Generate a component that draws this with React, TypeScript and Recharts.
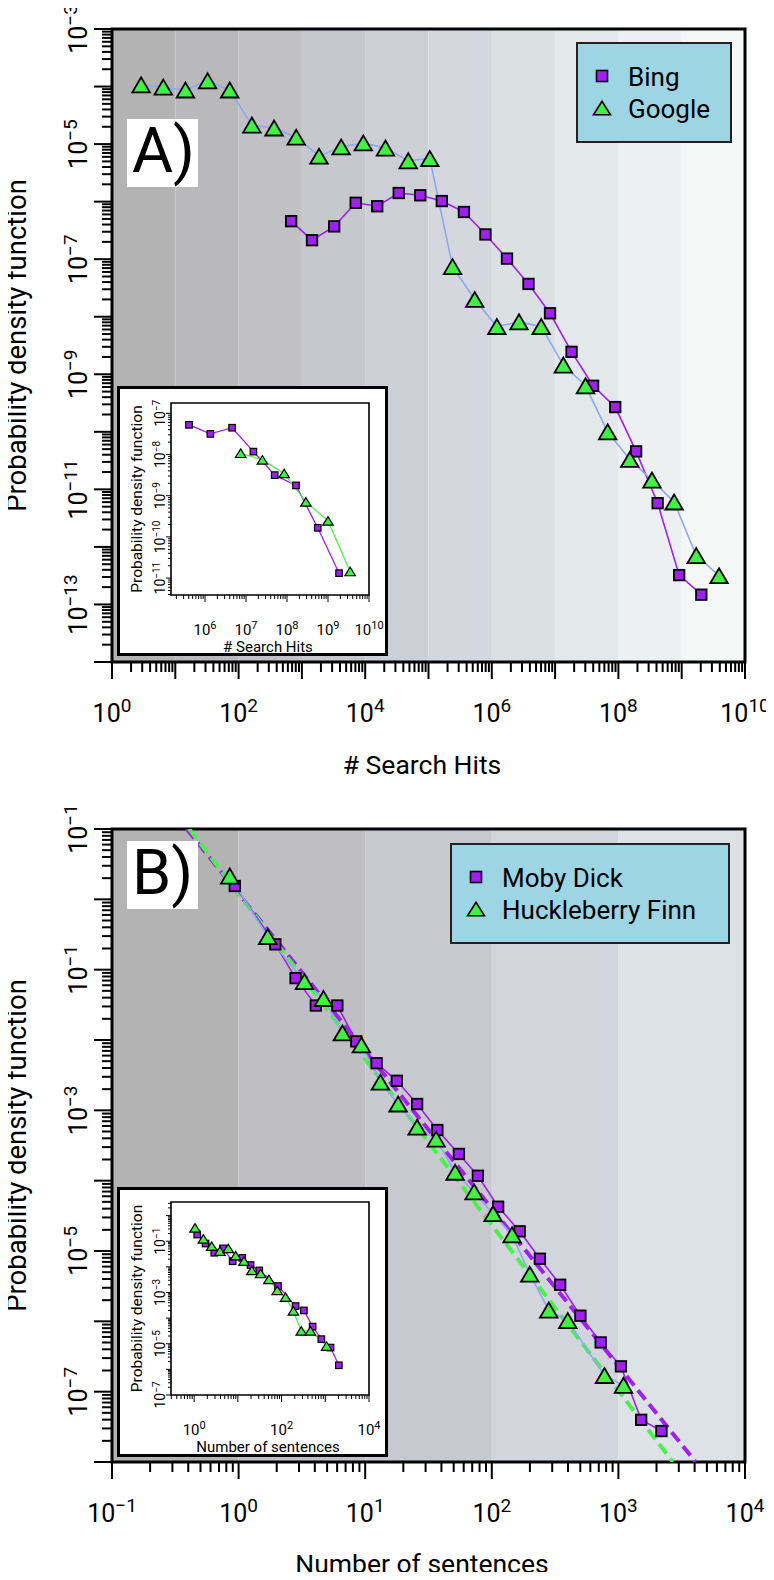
import React from 'react';
import { ComposedChart, Line, XAxis, YAxis, ReferenceArea } from 'recharts';

const FONT = 'Roboto, "Open Sans", Arial, sans-serif';
const PURPLE = '#a020f0';
const GREEN = '#44f044';
const SKY = '#8ea9ef';
const FIT_GREEN = '#4cf04c';
const LEGEND_BG = '#9dd5e5';

// ---- Panel A: search hits (all values are log10) ----
const bingHitsLog = [2.83, 3.16, 3.51, 3.85, 4.19, 4.53, 4.87, 5.21, 5.56, 5.9, 6.24, 6.58, 6.92, 7.26, 7.6, 7.95, 8.28, 8.62, 8.96, 9.31];
const bingPdfLog = [-6.34, -6.67, -6.43, -6.02, -6.08, -5.85, -5.89, -5.99, -6.18, -6.57, -6.99, -7.43, -7.94, -8.61, -9.2, -9.57, -10.34, -11.24, -12.49, -12.83];
const googleHitsLog = [0.46, 0.81, 1.16, 1.51, 1.86, 2.21, 2.56, 2.91, 3.27, 3.62, 3.97, 4.32, 4.68, 5.02, 5.38, 5.73, 6.08, 6.43, 6.78, 7.13, 7.48, 7.83, 8.18, 8.53, 8.88, 9.23, 9.59];
const googlePdfLog = [-3.97, -4.01, -4.06, -3.9, -4.06, -4.67, -4.72, -4.88, -5.21, -5.05, -4.98, -5.07, -5.29, -5.25, -7.13, -7.7, -8.17, -8.09, -8.17, -8.84, -9.2, -10.0, -10.48, -10.84, -11.22, -12.15, -12.5];

// inset A
const bingInsetHitsLog = [5.61, 6.13, 6.66, 7.18, 7.7, 8.22, 8.75, 9.27];
const bingInsetPdfLog = [-7.28, -7.5, -7.35, -7.93, -8.5, -8.75, -9.78, -10.88];
const googleInsetHitsLog = [6.87, 7.4, 7.93, 8.46, 9.0, 9.54];
const googleInsetPdfLog = [-7.97, -8.13, -8.46, -9.15, -9.61, -10.84];

// ---- Panel B: sentences ----
const mobySentLog = [-0.03, 0.29, 0.45, 0.61, 0.78, 0.93, 1.09, 1.25, 1.41, 1.57, 1.74, 1.89, 2.05, 2.22, 2.38, 2.54, 2.7, 2.86, 3.02, 3.18, 3.34];
const mobyPdfLog = [0.19, -0.64, -1.12, -1.51, -1.51, -2.02, -2.33, -2.58, -2.91, -3.28, -3.62, -3.93, -4.37, -4.72, -5.11, -5.48, -5.92, -6.3, -6.64, -7.4, -7.56];
const huckSentLog = [-0.07, 0.23, 0.52, 0.67, 0.82, 0.97, 1.12, 1.26, 1.41, 1.56, 1.71, 1.86, 2.01, 2.16, 2.3, 2.45, 2.6, 2.89, 3.04];
const huckPdfLog = [0.33, -0.53, -1.17, -1.41, -1.9, -2.07, -2.6, -2.91, -3.24, -3.41, -3.88, -4.16, -4.47, -4.77, -5.33, -5.84, -5.99, -6.77, -6.91];
// power-law fits (dashed)
const mobyFitSentLog = [-0.41, 3.61];
const mobyFitPdfLog = [1, -8];
const huckFitSentLog = [-0.39, 3.43];
const huckFitPdfLog = [1, -8];

// inset B
const mobyInsetSentLog = [0.07, 0.26, 0.46, 0.66, 0.88, 1.1, 1.29, 1.49, 1.92, 2.32, 2.51, 2.71, 2.91, 3.12, 3.31];
const mobyInsetPdfLog = [-0.74, -1.09, -1.45, -1.28, -1.78, -1.65, -1.93, -2.14, -2.75, -3.53, -3.7, -4.33, -4.82, -5.15, -5.84];
const huckInsetSentLog = [0.02, 0.21, 0.4, 0.59, 0.78, 0.95, 1.14, 1.32, 1.52, 1.71, 1.9, 2.09, 2.27, 2.45, 2.66, 3.03];
const huckInsetPdfLog = [-0.48, -0.91, -1.19, -1.39, -1.28, -1.56, -1.78, -2.14, -2.26, -2.49, -2.92, -3.18, -3.72, -4.5, -4.5, -5.09];

// tick labels: exponent -> superscript text
const xLabelsA: Record<number, string> = { 0: '0', 2: '2', 4: '4', 6: '6', 8: '8', 10: '10' };
const yLabelsA: Record<number, string> = { [-3]: '−3', [-5]: '−5', [-7]: '−7', [-9]: '−9', [-11]: '−11', [-13]: '−13' };
const xLabelsInsetA: Record<number, string> = { 6: '6', 7: '7', 8: '8', 9: '9', 10: '10' };
const yLabelsInsetA: Record<number, string> = { [-7]: '−7', [-8]: '−8', [-9]: '−9', [-10]: '−10', [-11]: '−11' };
const xLabelsB: Record<number, string> = { [-1]: '−1', 0: '0', 1: '1', 2: '2', 3: '3', 4: '4' };
const yLabelsB: Record<number, string> = { 1: '−1', [-1]: '−1', [-3]: '−3', [-5]: '−5', [-7]: '−7' };
const xLabelsInsetB: Record<number, string> = { 0: '0', 2: '2', 4: '4' };
const yLabelsInsetB: Record<number, string> = { [-1]: '−1', [-3]: '−3', [-5]: '−5', [-7]: '−7' };

// background shading, one band per decade
const bandsA = ['#b3b3b3', '#b9b9bc', '#c0c0c5', '#c7c8ce', '#cdcfd6', '#d4d7dd', '#dbe0e3', '#e3e9ea', '#ecf0f0', '#f5f7f7'];
const bandsB = ['#b3b3b3', '#bebec3', '#c8c8cf', '#d2d5dc', '#dce2e5'];

type Pt = { x: number; y: number };
const toPts = (lx: number[], ly: number[]): Pt[] => lx.map((v, i) => ({ x: 10 ** v, y: 10 ** ly[i] }));

function logTicks(lo: number, hi: number) {
  const out: number[] = [];
  for (let e = Math.floor(lo); e <= Math.ceil(hi); e++) {
    for (let m = 1; m <= 9; m++) {
      const v = m * Math.pow(10, e);
      const l = Math.log10(v);
      if (l >= lo - 1e-9 && l <= hi + 1e-9) out.push(v);
    }
  }
  return out;
}
const isMajor = (v: number) => Math.abs(Math.log10(v) - Math.round(Math.log10(v))) < 1e-6;

type TickCfg = { major: number; minor: number; sw: number; off: number; fs: number; sup: number; supDy: number };
const MAIN_X: TickCfg = { major: 17, minor: 10, sw: 2, off: 60, fs: 25, sup: 19, supDy: 10 };
const MAIN_Y: TickCfg = { major: 18, minor: 10, sw: 2, off: 25, fs: 25, sup: 19, supDy: 10 };
const INSET_X: TickCfg = { major: 7, minor: 4, sw: 1, off: 40, fs: 15, sup: 11, supDy: 6 };
const INSET_Y: TickCfg = { major: 5, minor: 3, sw: 1, off: 6, fs: 14, sup: 10, supDy: 5 };

const xTick = (labels: Record<number, string>, c: TickCfg) => (p: any) => {
  const v = p.payload.value;
  const major = isMajor(v);
  const lab = major ? labels[Math.round(Math.log10(v))] : undefined;
  return (
    <g>
      <line x1={p.x} x2={p.x} y1={p.y} y2={p.y + (major ? c.major : c.minor)} stroke="#000" strokeWidth={c.sw} />
      {lab !== undefined && (
        <text x={p.x} y={p.y + c.off} textAnchor="middle" fontFamily={FONT} fontSize={c.fs} fill="#000">
          <tspan>10</tspan>
          <tspan dy={-c.supDy} fontSize={c.sup}>{lab}</tspan>
        </text>
      )}
    </g>
  );
};

// y labels are turned a quarter turn, reading upward
const yTick = (labels: Record<number, string>, c: TickCfg) => (p: any) => {
  const v = p.payload.value;
  const major = isMajor(v);
  const lab = major ? labels[Math.round(Math.log10(v))] : undefined;
  const lx = p.x - c.off;
  return (
    <g>
      <line x1={p.x} x2={p.x - (major ? c.major : c.minor)} y1={p.y} y2={p.y} stroke="#000" strokeWidth={c.sw} />
      {lab !== undefined && (
        <g transform={`translate(${lx} ${p.y}) rotate(-90)`}>
          <text x={0} y={0} textAnchor="middle" fontFamily={FONT} fontSize={c.fs} fill="#000">
            <tspan>10</tspan>
            <tspan dy={-c.supDy} fontSize={c.sup}>{lab}</tspan>
          </text>
        </g>
      )}
    </g>
  );
};

type Mark = { sq: number; triW: number; triH: number; sw: number };
const MAIN_MARK: Mark = { sq: 10.5, triW: 17.5, triH: 15, sw: 1.8 };
const INSET_MARK: Mark = { sq: 6.5, triW: 10.5, triH: 8.5, sw: 1.2 };

const Square = ({ cx, cy, m }: { cx: number; cy: number; m: Mark }) => (
  <rect x={cx - m.sq / 2} y={cy - m.sq / 2} width={m.sq} height={m.sq} fill={PURPLE} stroke="#000" strokeWidth={m.sw} />
);
const Tri = ({ cx, cy, m }: { cx: number; cy: number; m: Mark }) => (
  <polygon
    points={`${cx - m.triW / 2},${cy + m.triH / 2} ${cx + m.triW / 2},${cy + m.triH / 2} ${cx},${cy - m.triH / 2}`}
    fill={GREEN}
    stroke="#000"
    strokeWidth={m.sw}
  />
);

const markerDot = (kind: 'square' | 'triangle', m: Mark) => (p: any) => {
  if (p.cx == null || p.cy == null) return <g key={p.index} />;
  return kind === 'square' ? (
    <g key={p.index}><Square cx={p.cx} cy={p.cy} m={m} /></g>
  ) : (
    <g key={p.index}><Tri cx={p.cx} cy={p.cy} m={m} /></g>
  );
};

type Series = { name: string; pts: Pt[]; stroke: string; width: number; dash?: string; marker?: 'square' | 'triangle' };
type AxisSpec = { lo: number; hi: number; labels: Record<number, string> };

function LogChart(props: {
  width: number; height: number; top: number; right: number; yWidth: number; xHeight: number;
  x: AxisSpec; y: AxisSpec; bands: string[]; series: Series[]; xCfg: TickCfg; yCfg: TickCfg; frame: number; mark: Mark;
}) {
  const { width, height, top, right, yWidth, xHeight, x, y, bands, series, xCfg, yCfg, frame, mark } = props;
  const xMin = 10 ** x.lo, xMax = 10 ** x.hi, yMin = 10 ** y.lo, yMax = 10 ** y.hi;
  return (
    <ComposedChart width={width} height={height} margin={{ top, right, left: 0, bottom: 0 }}>
      <XAxis
        dataKey="x" type="number" scale="log" domain={[xMin, xMax]} allowDataOverflow
        ticks={logTicks(x.lo, x.hi)} interval={0} tick={xTick(x.labels, xCfg)}
        tickLine={false} axisLine={false} tickSize={0} tickMargin={0} height={xHeight}
      />
      <YAxis
        type="number" scale="log" domain={[yMin, yMax]} allowDataOverflow
        ticks={logTicks(y.lo, y.hi)} interval={0} tick={yTick(y.labels, yCfg)}
        tickLine={false} axisLine={false} tickSize={0} tickMargin={0} width={yWidth}
      />
      {bands.map((c, i) => (
        <ReferenceArea
          key={'band' + i}
          x1={10 ** (Math.floor(x.lo) + i)} x2={10 ** (Math.floor(x.lo) + i + 1)}
          y1={yMin} y2={yMax} fill={c} fillOpacity={1} stroke="none"
        />
      ))}
      {series.map((s) => (
        <Line
          key={s.name} name={s.name} data={s.pts} dataKey="y" type="linear"
          stroke={s.stroke} strokeWidth={s.width} strokeDasharray={s.dash}
          dot={s.marker ? markerDot(s.marker, mark) : false} activeDot={false}
          isAnimationActive={false}
        />
      ))}
      <ReferenceArea x1={xMin} x2={xMax} y1={yMin} y2={yMax} fill="none" fillOpacity={0} stroke="#000" strokeWidth={frame} />
    </ComposedChart>
  );
}

function Inset(props: { left: number; top: number; plotTop: number; xHeight: number; x: AxisSpec; y: AxisSpec; series: Series[]; xTitle: string }) {
  const { left, top, plotTop, xHeight, x, y, series, xTitle } = props;
  const plotBottom = 270 - xHeight;
  const mid = (plotTop + plotBottom) / 2;
  return (
    <div style={{ position: 'absolute', left, top, width: 271, height: 270, background: '#fff', boxShadow: 'inset 0 0 0 3px #000' }}>
      <div style={{ position: 'absolute', left: 0, top: 0 }}>
        <LogChart
          width={271} height={270} top={plotTop} right={19} yWidth={54} xHeight={xHeight}
          x={x} y={y} bands={[]} series={series} xCfg={INSET_X} yCfg={INSET_Y} frame={1.6} mark={INSET_MARK}
        />
      </div>
      <svg style={{ position: 'absolute', left: 0, top: 0, pointerEvents: 'none' }} width={271} height={270}>
        <text x={151} y={plotBottom + 57} textAnchor="middle" fontFamily={FONT} fontSize={15}>{xTitle}</text>
        <g transform={`translate(25 ${mid}) rotate(-90)`}>
          <text x={0} y={0} textAnchor="middle" fontFamily={FONT} fontSize={15.5}>Probability density function</text>
        </g>
      </svg>
    </div>
  );
}

function Tag({ left, top, text }: { left: number; top: number; text: string }) {
  return (
    <svg style={{ position: 'absolute', left, top, overflow: 'visible' }} width={71} height={68}>
      <rect x={0} y={0} width={71} height={68} fill="#fff" />
      <text x={5} y={53} fontFamily={FONT} fontSize={63} fill="#000">{text}</text>
    </svg>
  );
}

function LegendBox({ left, top, width, items }: { left: number; top: number; width: number; items: { label: string; kind: 'square' | 'triangle' }[] }) {
  const m: Mark = { sq: 11, triW: 17, triH: 13.5, sw: 1.6 };
  return (
    <svg style={{ position: 'absolute', left, top }} width={width} height={101}>
      <rect x={1} y={1} width={width - 2} height={99} fill={LEGEND_BG} stroke="#222" strokeWidth={2} />
      {items.map((it, i) => {
        const cy = 34 + i * 32;
        return (
          <g key={it.label}>
            {it.kind === 'square' ? <Square cx={26} cy={cy} m={m} /> : <Tri cx={26} cy={cy} m={m} />}
            <text x={52} y={cy + 10} fontFamily={FONT} fontSize={26} fill="#000">{it.label}</text>
          </g>
        );
      })}
    </svg>
  );
}

function Titles({ yCenter, xBaseline, xTitle }: { yCenter: number; xBaseline: number; xTitle: string }) {
  return (
    <svg style={{ position: 'absolute', left: 0, top: 0, pointerEvents: 'none' }} width={774} height={790}>
      <g transform={`translate(26 ${yCenter}) rotate(-90)`}>
        <text x={0} y={0} textAnchor="middle" fontFamily={FONT} fontSize={27.5}>Probability density function</text>
      </g>
      <text x={422} y={xBaseline} textAnchor="middle" fontFamily={FONT} fontSize={26.5}>{xTitle}</text>
    </svg>
  );
}

function PanelA() {
  const series: Series[] = [
    { name: 'Bing', pts: toPts(bingHitsLog, bingPdfLog), stroke: PURPLE, width: 1.6, marker: 'square' },
    { name: 'Google', pts: toPts(googleHitsLog, googlePdfLog), stroke: SKY, width: 1.6, marker: 'triangle' },
  ];
  const inset: Series[] = [
    { name: 'Bing', pts: toPts(bingInsetHitsLog, bingInsetPdfLog), stroke: PURPLE, width: 1.3, marker: 'square' },
    { name: 'Google', pts: toPts(googleInsetHitsLog, googleInsetPdfLog), stroke: FIT_GREEN, width: 1.3, marker: 'triangle' },
  ];
  return (
    <div style={{ position: 'relative', width: 774, height: 790 }}>
      <LogChart
        width={774} height={790} top={29} right={29} yWidth={112} xHeight={128}
        x={{ lo: 0, hi: 10, labels: xLabelsA }} y={{ lo: -14, hi: -3, labels: yLabelsA }}
        bands={bandsA} series={series} xCfg={MAIN_X} yCfg={MAIN_Y} frame={3} mark={MAIN_MARK}
      />
      <Titles yCenter={345.5} xBaseline={774} xTitle="# Search Hits" />
      <Tag left={127} top={119} text="A)" />
      <LegendBox left={576} top={42} width={156} items={[{ label: 'Bing', kind: 'square' }, { label: 'Google', kind: 'triangle' }]} />
      <Inset
        left={117} top={386} plotTop={17} xHeight={61}
        x={{ lo: 5.17, hi: 10, labels: xLabelsInsetA }} y={{ lo: -11.41, hi: -6.75, labels: yLabelsInsetA }}
        series={inset} xTitle="# Search Hits"
      />
    </div>
  );
}

function PanelB() {
  const series: Series[] = [
    { name: 'MobyFit', pts: toPts(mobyFitSentLog, mobyFitPdfLog), stroke: PURPLE, width: 4, dash: '12 6' },
    { name: 'HuckFit', pts: toPts(huckFitSentLog, huckFitPdfLog), stroke: FIT_GREEN, width: 4, dash: '12 6' },
    { name: 'Moby Dick', pts: toPts(mobySentLog, mobyPdfLog), stroke: PURPLE, width: 1.6, marker: 'square' },
    { name: 'Huckleberry Finn', pts: toPts(huckSentLog, huckPdfLog), stroke: SKY, width: 1.6, marker: 'triangle' },
  ];
  const inset: Series[] = [
    { name: 'Moby Dick', pts: toPts(mobyInsetSentLog, mobyInsetPdfLog), stroke: PURPLE, width: 1.3, marker: 'square' },
    { name: 'Huckleberry Finn', pts: toPts(huckInsetSentLog, huckInsetPdfLog), stroke: FIT_GREEN, width: 1.3, marker: 'triangle' },
  ];
  return (
    <div style={{ position: 'relative', width: 774, height: 790 }}>
      <LogChart
        width={774} height={790} top={39} right={29} yWidth={112} xHeight={118}
        x={{ lo: -1, hi: 4, labels: xLabelsB }} y={{ lo: -8, hi: 1, labels: yLabelsB }}
        bands={bandsB} series={series} xCfg={MAIN_X} yCfg={MAIN_Y} frame={3} mark={MAIN_MARK}
      />
      <Titles yCenter={355.5} xBaseline={783} xTitle="Number of sentences" />
      <Tag left={127} top={51} text="B)" />
      <LegendBox left={450} top={53} width={280} items={[{ label: 'Moby Dick', kind: 'square' }, { label: 'Huckleberry Finn', kind: 'triangle' }]} />
      <Inset
        left={117} top={397} plotTop={15} xHeight={62}
        x={{ lo: -0.53, hi: 4, labels: xLabelsInsetB }} y={{ lo: -7, hi: 0.53, labels: yLabelsInsetB }}
        series={inset} xTitle="Number of sentences"
      />
    </div>
  );
}

export default function App() {
  return (
    <div style={{ position: 'relative', width: 774, height: 1580, margin: -8, background: '#fff' }}>
      <PanelA />
      <PanelB />
    </div>
  );
}
